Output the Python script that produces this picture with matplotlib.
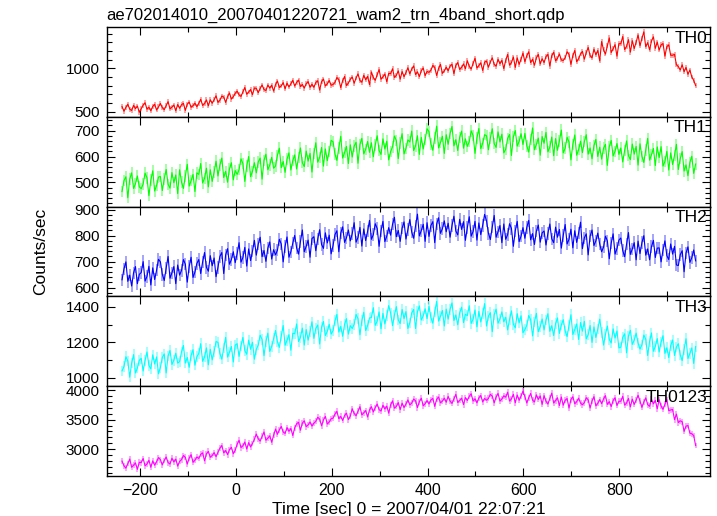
import numpy as np
import matplotlib
matplotlib.use("Agg")
import matplotlib.pyplot as plt
from matplotlib.ticker import MultipleLocator
from matplotlib.colors import to_rgb

plt.rcParams['font.family'] = ['Liberation Sans', 'DejaVu Sans']

title = "ae702014010_20070401220721_wam2_trn_4band_short.qdp"
xlabel = "Time [sec] 0 = 2007/04/01 22:07:21"
ylabel = "Counts/sec"
band_names = ["TH0", "TH1", "TH2", "TH3", "TH0123"]
band_colors = ["#ff0000", "#00ff00", "#0000ff", "#00ffff", "#ff00ff"]
band_errors = [28, 22, 24, 30, 50]

t_start = -237.0
t_step = 4.0

th0 = [
    558, 504, 549, 585, 528, 513, 573, 534, 564, 492,
    533, 575, 602, 527, 551, 509, 560, 584, 518, 554,
    594, 546, 522, 570, 615, 531, 552, 576, 510, 582,
    538, 580, 595, 514, 586, 610, 550, 568, 598, 556,
    596, 642, 571, 592, 635, 567, 637, 596, 636, 682,
    606, 631, 679, 668, 606, 672, 715, 644, 671, 711,
    736, 693, 675, 728, 778, 700, 726, 755, 695, 772,
    768, 718, 767, 807, 754, 743, 807, 771, 805, 737,
    811, 853, 778, 796, 835, 763, 829, 784, 820, 862,
    795, 837, 864, 789, 813, 771, 822, 846, 780, 816,
    780, 836, 856, 748, 844, 876, 796, 820, 860, 804,
    813, 837, 893, 869, 777, 857, 905, 801, 829, 873,
    899, 827, 887, 935, 859, 839, 919, 867, 907, 811,
    957, 893, 861, 925, 985, 873, 901, 933, 845, 941,
    938, 994, 894, 918, 970, 874, 962, 902, 950, 1006,
    935, 991, 1027, 927, 959, 903, 971, 1003, 915, 963,
    953, 977, 1033, 1009, 917, 997, 1045, 941, 969, 1013,
    970, 1026, 1046, 938, 1034, 1066, 986, 1010, 1050, 994,
    1087, 1023, 991, 1055, 1115, 1003, 1031, 1063, 975, 1071,
    1084, 1012, 1072, 1120, 1044, 1024, 1104, 1052, 1092, 996,
    1090, 1160, 1035, 1065, 1130, 1010, 1120, 1045, 1105, 1175,
    1075, 1145, 1190, 1065, 1105, 1035, 1120, 1160, 1050, 1110,
    1065, 1135, 1160, 1025, 1145, 1185, 1085, 1115, 1165, 1095,
    1090, 1120, 1190, 1160, 1045, 1145, 1205, 1075, 1110, 1165,
    1195, 1105, 1180, 1240, 1145, 1120, 1220, 1155, 1205, 1085,
    1308, 1212, 1164, 1260, 1350, 1182, 1224, 1272, 1140, 1284,
    1282, 1366, 1216, 1252, 1330, 1186, 1318, 1228, 1300, 1384,
    1260, 1344, 1420, 1248, 1296, 1212, 1314, 1362, 1230, 1302,
    1210, 1270, 1285, 1140, 1250, 1270, 1150, 1150, 1160, 1040,
    1020, 980, 1040, 960, 1010, 930, 980, 900, 860, 800,
]

th1 = [
    465, 507, 522, 441, 513, 537, 477, 495, 525, 483,
    476, 494, 536, 518, 449, 509, 545, 467, 488, 521,
    523, 469, 514, 550, 493, 478, 538, 499, 529, 457,
    549, 501, 477, 525, 570, 486, 507, 531, 465, 537,
    531, 573, 498, 516, 555, 483, 549, 504, 540, 582,
    525, 567, 594, 519, 543, 501, 552, 576, 510, 546,
    531, 549, 591, 573, 504, 564, 600, 522, 543, 576,
    537, 579, 594, 513, 585, 609, 549, 567, 597, 555,
    563, 605, 632, 557, 581, 539, 590, 614, 548, 584,
    606, 552, 597, 633, 576, 561, 621, 582, 612, 540,
    611, 653, 578, 596, 635, 563, 629, 584, 620, 662,
    657, 609, 585, 633, 678, 594, 615, 639, 573, 645,
    598, 640, 655, 574, 646, 670, 610, 628, 658, 616,
    653, 599, 644, 680, 623, 608, 668, 629, 659, 587,
    619, 637, 679, 661, 592, 652, 688, 610, 631, 664,
    656, 698, 623, 641, 680, 608, 674, 629, 665, 707,
    696, 648, 624, 672, 717, 633, 654, 678, 612, 684,
    647, 689, 716, 641, 665, 623, 674, 698, 632, 668,
    639, 657, 699, 681, 612, 672, 708, 630, 651, 684,
    680, 626, 671, 707, 650, 635, 695, 656, 686, 614,
    628, 670, 685, 604, 676, 700, 640, 658, 688, 646,
    689, 641, 617, 665, 710, 626, 647, 671, 605, 677,
    651, 693, 618, 636, 675, 603, 669, 624, 660, 702,
    614, 632, 674, 656, 587, 647, 683, 605, 626, 659,
    615, 657, 684, 609, 633, 591, 642, 666, 600, 636,
    590, 632, 647, 566, 638, 662, 602, 620, 650, 608,
    633, 579, 624, 660, 603, 588, 648, 609, 639, 567,
    649, 601, 577, 625, 670, 586, 607, 631, 565, 637,
    596, 638, 563, 581, 620, 548, 614, 569, 605, 647,
    550, 592, 619, 544, 568, 526, 577, 601, 535, 571,
]

th2 = [
    630, 672, 699, 624, 648, 606, 657, 681, 615, 651,
    658, 700, 625, 643, 682, 610, 676, 631, 667, 709,
    699, 651, 627, 675, 720, 636, 657, 681, 615, 687,
    648, 666, 708, 690, 621, 681, 717, 639, 660, 693,
    708, 654, 699, 735, 678, 663, 723, 684, 714, 642,
    678, 720, 735, 654, 726, 750, 690, 708, 738, 696,
    731, 773, 698, 716, 755, 683, 749, 704, 740, 782,
    725, 767, 794, 719, 743, 701, 752, 776, 710, 746,
    726, 744, 786, 768, 699, 759, 795, 717, 738, 771,
    801, 753, 729, 777, 822, 738, 759, 783, 717, 789,
    796, 742, 787, 823, 766, 751, 811, 772, 802, 730,
    762, 804, 819, 738, 810, 834, 774, 792, 822, 780,
    808, 850, 775, 793, 832, 760, 826, 781, 817, 859,
    786, 804, 846, 828, 759, 819, 855, 777, 798, 831,
    802, 844, 871, 796, 820, 778, 829, 853, 787, 823,
    862, 814, 790, 838, 883, 799, 820, 844, 778, 850,
    797, 839, 854, 773, 845, 869, 809, 827, 857, 815,
    848, 794, 839, 875, 818, 803, 863, 824, 854, 782,
    831, 873, 798, 816, 855, 783, 849, 804, 840, 882,
    857, 809, 785, 833, 878, 794, 815, 839, 773, 845,
    786, 804, 846, 828, 759, 819, 855, 777, 798, 831,
    790, 832, 859, 784, 808, 766, 817, 841, 775, 811,
    818, 764, 809, 845, 788, 773, 833, 794, 824, 752,
    801, 843, 768, 786, 825, 753, 819, 774, 810, 852,
    750, 792, 807, 726, 798, 822, 762, 780, 810, 768,
    738, 756, 798, 780, 711, 771, 807, 729, 750, 783,
    791, 743, 719, 767, 812, 728, 749, 773, 707, 779,
    731, 773, 800, 725, 749, 707, 758, 782, 716, 752,
    753, 699, 744, 780, 723, 708, 768, 729, 759, 687,
    685, 727, 742, 661, 733, 757, 697, 715, 745, 703,
]

th3 = [
    1038, 1062, 1118, 1094, 1002, 1082, 1130, 1026, 1054, 1098,
    1109, 1037, 1097, 1145, 1069, 1049, 1129, 1077, 1117, 1021,
    1058, 1114, 1134, 1026, 1122, 1154, 1074, 1098, 1138, 1082,
    1090, 1146, 1182, 1082, 1114, 1058, 1126, 1158, 1070, 1118,
    1136, 1192, 1092, 1116, 1168, 1072, 1160, 1100, 1148, 1204,
    1200, 1136, 1104, 1168, 1228, 1116, 1144, 1176, 1088, 1184,
    1192, 1120, 1180, 1228, 1152, 1132, 1212, 1160, 1200, 1104,
    1160, 1184, 1240, 1216, 1124, 1204, 1252, 1148, 1176, 1220,
    1267, 1203, 1171, 1235, 1295, 1183, 1211, 1243, 1155, 1251,
    1248, 1304, 1204, 1228, 1280, 1184, 1272, 1212, 1260, 1316,
    1222, 1278, 1298, 1190, 1286, 1318, 1238, 1262, 1302, 1246,
    1266, 1322, 1358, 1258, 1290, 1234, 1302, 1334, 1246, 1294,
    1278, 1302, 1358, 1334, 1242, 1322, 1370, 1266, 1294, 1338,
    1340, 1396, 1296, 1320, 1372, 1276, 1364, 1304, 1352, 1408,
    1366, 1294, 1354, 1402, 1326, 1306, 1386, 1334, 1374, 1278,
    1310, 1366, 1386, 1278, 1374, 1406, 1326, 1350, 1390, 1334,
    1404, 1340, 1308, 1372, 1432, 1320, 1348, 1380, 1292, 1388,
    1331, 1387, 1423, 1323, 1355, 1299, 1367, 1399, 1311, 1359,
    1351, 1407, 1307, 1331, 1383, 1287, 1375, 1315, 1363, 1419,
    1292, 1348, 1368, 1260, 1356, 1388, 1308, 1332, 1372, 1316,
    1342, 1270, 1330, 1378, 1302, 1282, 1362, 1310, 1350, 1254,
    1272, 1296, 1352, 1328, 1236, 1316, 1364, 1260, 1288, 1332,
    1270, 1326, 1362, 1262, 1294, 1238, 1306, 1338, 1250, 1298,
    1328, 1264, 1232, 1296, 1356, 1244, 1272, 1304, 1216, 1312,
    1263, 1319, 1219, 1243, 1295, 1199, 1287, 1227, 1275, 1331,
    1256, 1184, 1244, 1292, 1216, 1196, 1276, 1224, 1264, 1168,
    1172, 1228, 1248, 1140, 1236, 1268, 1188, 1212, 1252, 1196,
    1161, 1185, 1241, 1217, 1125, 1205, 1253, 1149, 1177, 1221,
    1145, 1201, 1237, 1137, 1169, 1113, 1181, 1213, 1125, 1173,
    1192, 1128, 1096, 1160, 1220, 1108, 1136, 1168, 1080, 1176,
]

th0123 = [
    2795, 2715, 2675, 2755, 2830, 2690, 2725, 2765, 2655, 2775,
    2770, 2840, 2715, 2745, 2810, 2690, 2800, 2725, 2785, 2855,
    2820, 2730, 2805, 2865, 2770, 2745, 2845, 2780, 2830, 2710,
    2790, 2820, 2890, 2860, 2745, 2845, 2905, 2775, 2810, 2865,
    2840, 2910, 2935, 2800, 2920, 2960, 2860, 2890, 2940, 2870,
    2945, 3015, 3060, 2935, 2975, 2905, 2990, 3030, 2920, 2980,
    3080, 3150, 3025, 3055, 3120, 3000, 3110, 3035, 3095, 3165,
    3255, 3175, 3135, 3215, 3290, 3150, 3185, 3225, 3115, 3235,
    3340, 3250, 3325, 3385, 3290, 3265, 3365, 3300, 3350, 3230,
    3360, 3430, 3455, 3320, 3440, 3480, 3380, 3410, 3460, 3390,
    3440, 3470, 3540, 3510, 3395, 3495, 3555, 3425, 3460, 3515,
    3525, 3595, 3640, 3515, 3555, 3485, 3570, 3610, 3500, 3560,
    3685, 3605, 3565, 3645, 3720, 3580, 3615, 3655, 3545, 3665,
    3720, 3630, 3705, 3765, 3670, 3645, 3745, 3680, 3730, 3610,
    3750, 3820, 3695, 3725, 3790, 3670, 3780, 3705, 3765, 3835,
    3750, 3780, 3850, 3820, 3705, 3805, 3865, 3735, 3770, 3825,
    3765, 3835, 3860, 3725, 3845, 3885, 3785, 3815, 3865, 3795,
    3895, 3815, 3775, 3855, 3930, 3790, 3825, 3865, 3755, 3875,
    3825, 3895, 3940, 3815, 3855, 3785, 3870, 3910, 3800, 3860,
    3830, 3860, 3930, 3900, 3785, 3885, 3945, 3815, 3850, 3905,
    3882, 3966, 3816, 3852, 3930, 3786, 3918, 3828, 3900, 3984,
    3891, 3783, 3873, 3945, 3831, 3801, 3921, 3843, 3903, 3759,
    3908, 3812, 3764, 3860, 3950, 3782, 3824, 3872, 3740, 3884,
    3745, 3829, 3859, 3697, 3841, 3889, 3769, 3805, 3865, 3781,
    3752, 3788, 3872, 3836, 3698, 3818, 3890, 3734, 3776, 3842,
    3770, 3854, 3908, 3758, 3806, 3722, 3824, 3872, 3740, 3812,
    3812, 3896, 3746, 3782, 3860, 3716, 3848, 3758, 3830, 3914,
    3816, 3708, 3798, 3870, 3756, 3726, 3846, 3768, 3828, 3684,
    3838, 3732, 3674, 3760, 3840, 3652, 3664, 3672, 3500, 3594,
    3450, 3480, 3465, 3300, 3390, 3400, 3270, 3260, 3230, 3060,
]

series = [th0, th1, th2, th3, th0123]
ylims = [(440, 1476), (407, 753), (566, 912), (951, 1460), (2542, 4068)]
major_steps = [500, 100, 100, 200, 500]
minor_steps = [100, 20, 20, 100, 100]
xlim = (-269, 989)

W, H = 717, 516
fig = plt.figure(figsize=(W / 100, H / 100), dpi=100)

left_px, right_px = 106.7, 710.0
top_px, bottom_px = 27.0, 476.0
ph = (bottom_px - top_px) / 5.0

axes = []
for i, (vals, col, name) in enumerate(zip(series, band_colors, band_names)):
    y0 = top_px + i * ph
    ax = fig.add_axes([left_px / W, 1 - (y0 + ph) / H,
                       (right_px - left_px) / W, ph / H])
    vals = np.asarray(vals, dtype=float)
    t = t_start + t_step * np.arange(len(vals))
    light = tuple(0.45 * c + 0.55 for c in to_rgb(col))
    ax.errorbar(t, vals, yerr=band_errors[i], fmt='none', ecolor=light,
                elinewidth=1.1, capsize=0)
    ax.plot(t, vals, color=col, lw=0.8)
    ax.set_xlim(*xlim)
    ax.set_ylim(*ylims[i])
    ax.xaxis.set_major_locator(MultipleLocator(200))
    ax.xaxis.set_minor_locator(MultipleLocator(100))
    ax.yaxis.set_major_locator(MultipleLocator(major_steps[i]))
    ax.yaxis.set_minor_locator(MultipleLocator(minor_steps[i]))
    ax.tick_params(which='both', direction='in', top=True, right=True,
                   width=0.8, labelsize=11)
    ax.tick_params(which='major', length=6, pad=5)
    ax.tick_params(which='minor', length=3.5)
    ax.tick_params(axis='x', labelsize=11.5)
    for sp in ax.spines.values():
        sp.set_linewidth(1.0)
        sp.set_zorder(5)
    if i < 4:
        ax.tick_params(labelbottom=False)
    ax.text(0.995, 0.96, name, transform=ax.transAxes, ha='right', va='top',
            fontsize=12.5, zorder=6)
    axes.append(ax)

fig.text(left_px / W, 1 - 15 / H, title, ha='left', va='center', fontsize=12)
axes[-1].set_xlabel(xlabel, fontsize=12.5, labelpad=3)
fig.text(41 / W, 1 - 251 / H, ylabel, rotation=90, ha='center', va='center',
         fontsize=12.5)

fig.savefig("out.png", dpi=100)
